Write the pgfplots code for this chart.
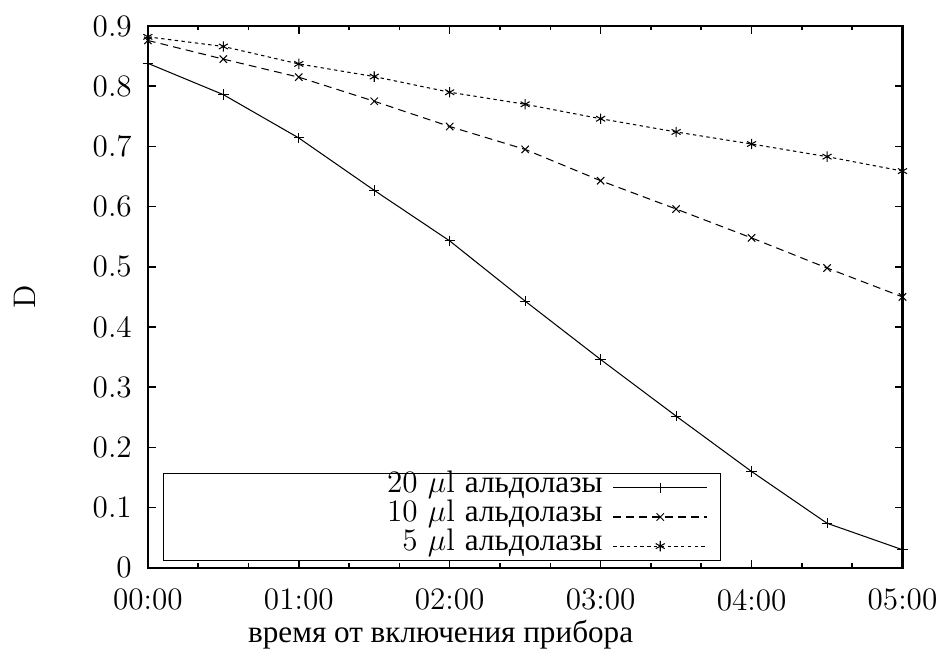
\documentclass[12pt,border=0pt]{standalone}
\usepackage{fontspec}
\newfontfamily\cyr{Liberation Serif}
\usepackage{pgfplots}
\pgfplotsset{compat=1.18}

\begin{document}
\begin{tikzpicture}
\useasboundingbox (0,0) rectangle (361.35pt,252.7pt);
\begin{axis}[
    at={(56.9pt,34.2pt)}, anchor=south west,
    scale only axis, width=290.4pt, height=208.5pt,
    xmin=0, xmax=5, ymin=0, ymax=0.9,
    xtick={0,1,2,3,4,5},
    xticklabels={00:00,01:00,02:00,03:00,04:00,05:00},
    minor x tick num=2,
    ytick={0,0.1,0.2,0.3,0.4,0.5,0.6,0.7,0.8,0.9},
    yticklabel style={/pgf/number format/fixed, /pgf/number format/precision=1, xshift=-2pt},
    xticklabel style={yshift=-4pt},
    major tick length=3pt, minor tick length=1.7pt,
    axis line style={line width=0.9pt},
    every tick/.style={black, line width=0.6pt},
    xlabel={\cyr время от включения прибора},
    ylabel={D},
    every axis x label/.style={at={(axis description cs:0.388,-0.124)}, anchor=center},
    every axis y label/.style={at={(axis description cs:-0.163,0.5)}, rotate=90, anchor=center},
    clip=false,
    legend style={at={(axis description cs:0.0199,0.1753)}, anchor=north west,
        draw=black, legend plot pos=right, cells={anchor=east}, row sep=0pt,
        inner xsep=3pt, inner ysep=0pt,
        nodes={inner ysep=0pt, text height=7.3pt, text depth=3.9pt}},
    legend image code/.code={\draw[mark repeat=2,mark phase=2,#1] plot coordinates {(2pt,0pt) (20pt,0pt) (38pt,0pt)};
        \path (0pt,0pt) (40pt,0pt);},
]
% 20 мкл
\addplot[black, line width=0.4pt, mark=+, mark size=2pt] coordinates {
    (0,0.838) (0.5,0.786) (1,0.714) (1.5,0.627) (2,0.543) (2.5,0.443)
    (3,0.346) (3.5,0.252) (4,0.160) (4.5,0.074) (5,0.030)
};
\addlegendentry{\makebox[164pt][r]{20 $\mu$l \cyr альдолазы}}
% 10 мкл
\addplot[black, line width=0.4pt, dash pattern=on 3pt off 2pt, mark=x, mark size=2pt, mark options={solid}] coordinates {
    (0,0.876) (0.5,0.845) (1,0.815) (1.5,0.775) (2,0.733) (2.5,0.695)
    (3,0.643) (3.5,0.596) (4,0.548) (4.5,0.498) (5,0.450)
};
\addlegendentry{\makebox[164pt][r]{10 $\mu$l \cyr альдолазы}}
% 5 мкл
\addplot[black, line width=0.4pt, dash pattern=on 1.3pt off 1.3pt, mark=asterisk, mark size=2pt, mark options={solid}] coordinates {
    (0,0.882) (0.5,0.866) (1,0.837) (1.5,0.816) (2,0.790) (2.5,0.770)
    (3,0.746) (3.5,0.724) (4,0.704) (4.5,0.683) (5,0.659)
};
\addlegendentry{\makebox[164pt][r]{5 $\mu$l \cyr альдолазы}}
\end{axis}
\end{tikzpicture}
\end{document}
